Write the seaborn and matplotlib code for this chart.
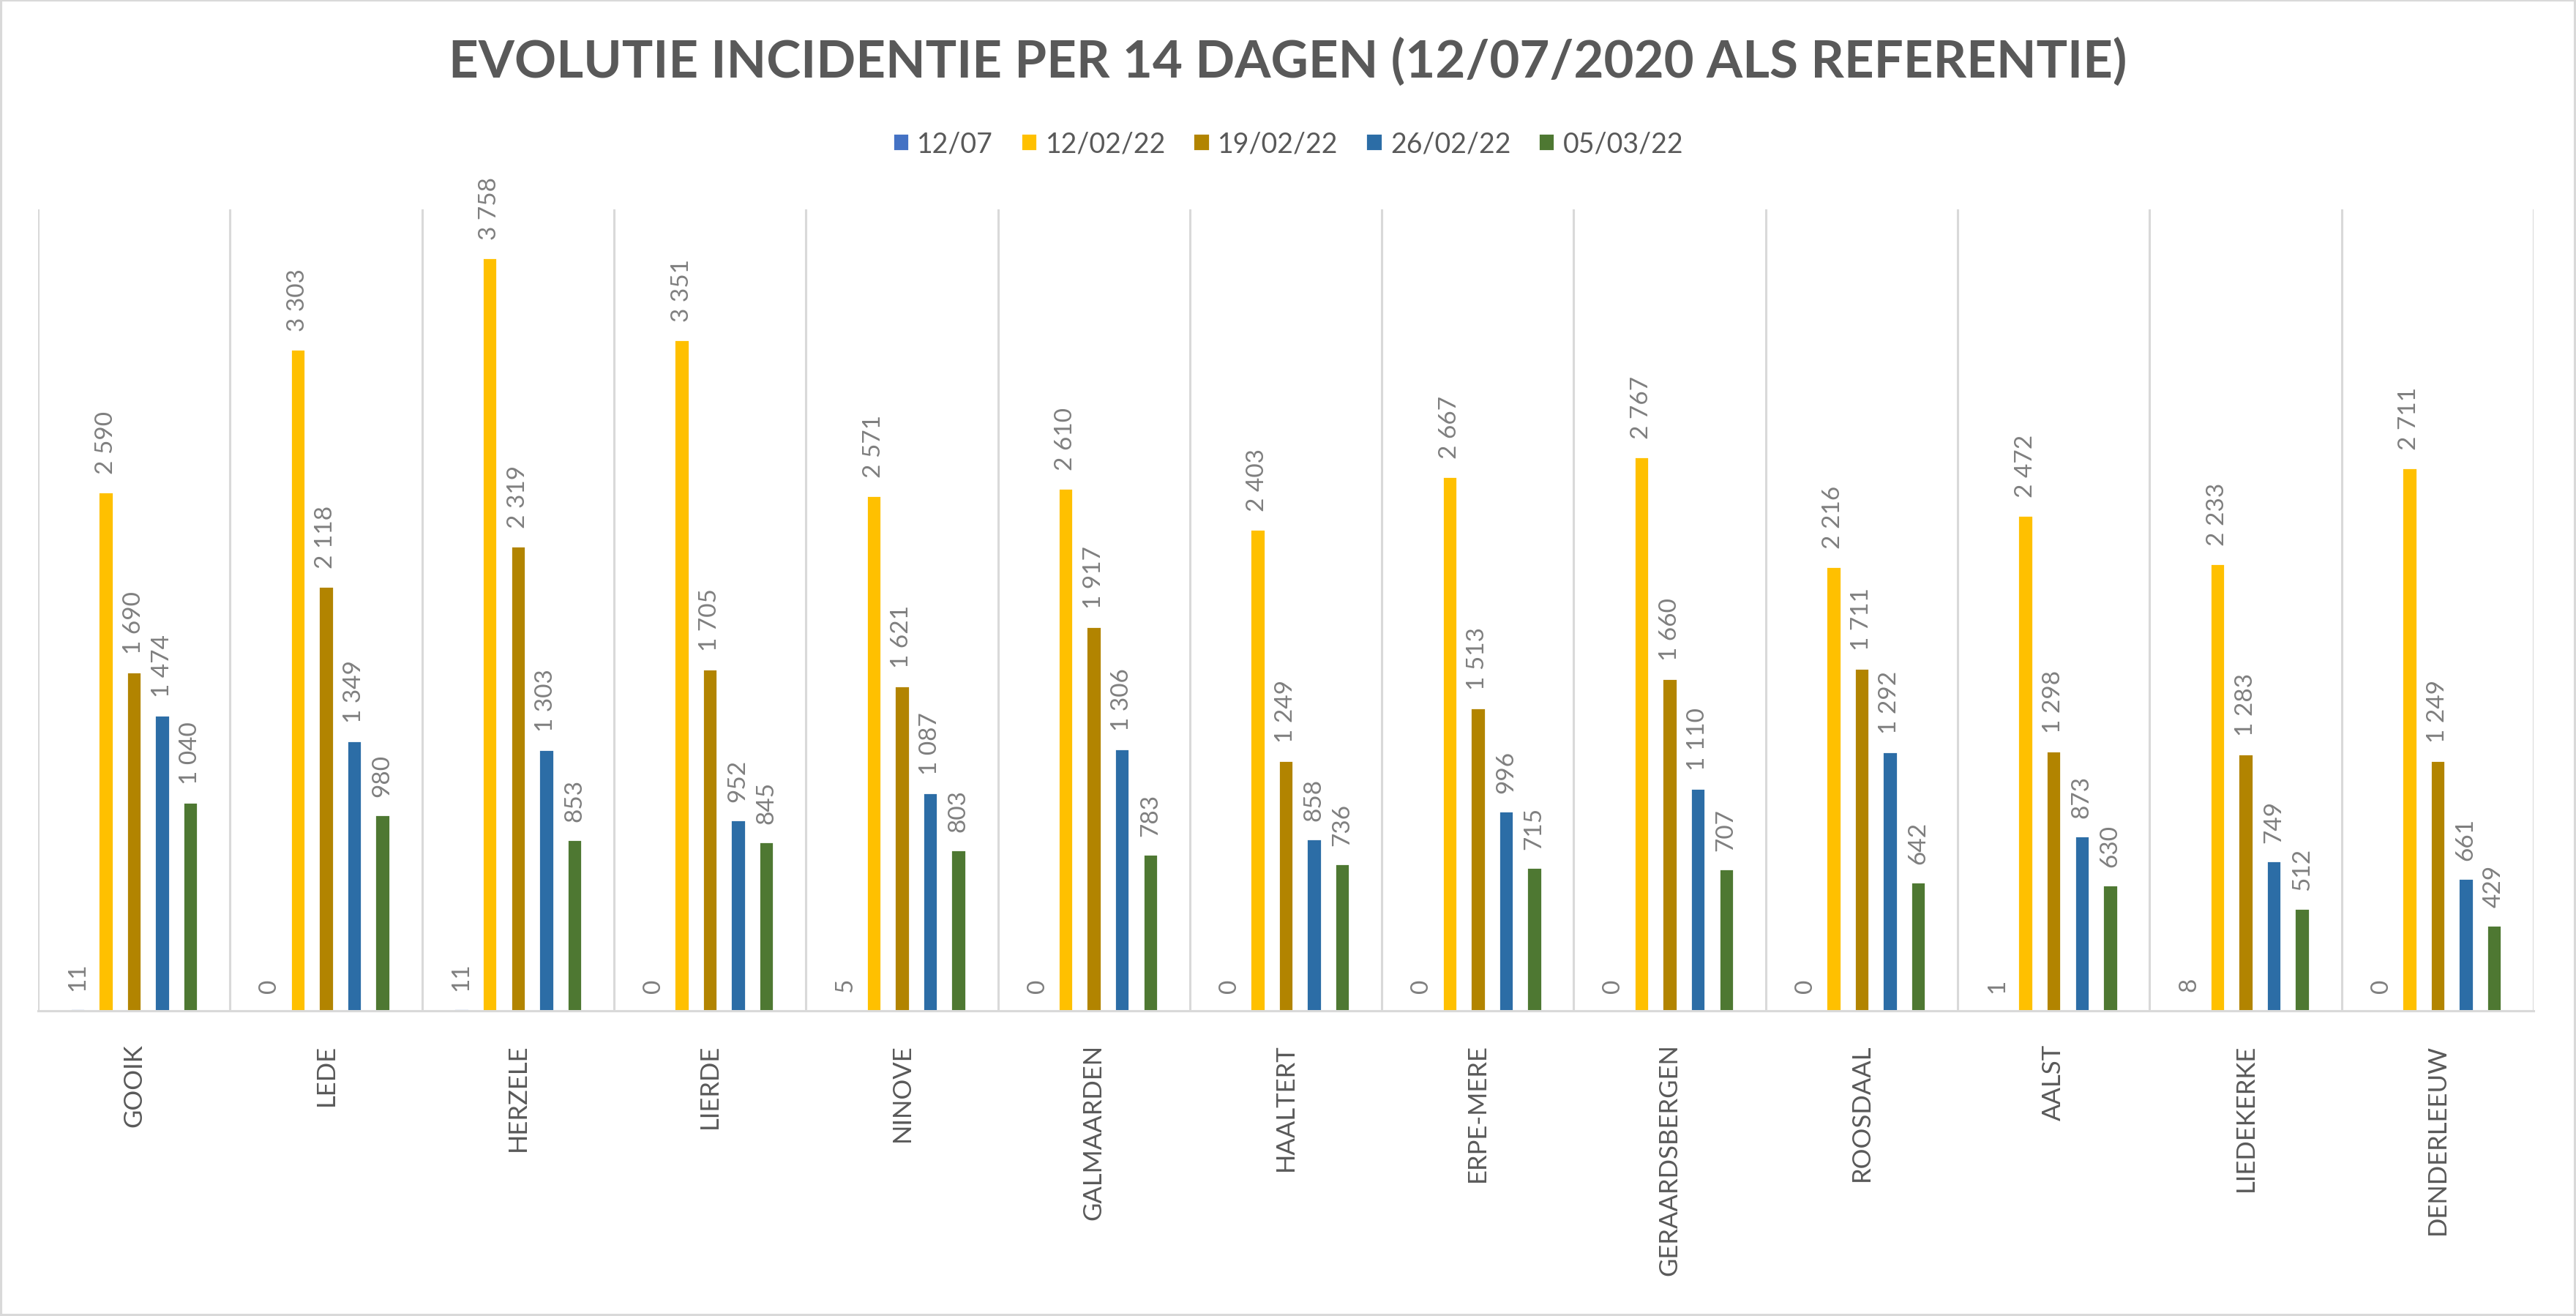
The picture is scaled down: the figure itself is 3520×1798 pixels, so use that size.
import matplotlib
matplotlib.use("Agg")
import matplotlib.pyplot as plt
from matplotlib.patches import Rectangle
import numpy as np
import pandas as pd
import seaborn as sns

# data
gemeenten = ["GOOIK", "LEDE", "HERZELE", "LIERDE", "NINOVE", "GALMAARDEN", "HAALTERT",
             "ERPE-MERE", "GERAARDSBERGEN", "ROOSDAAL", "AALST", "LIEDEKERKE", "DENDERLEEUW"]
datums = ["12/07", "12/02/22", "19/02/22", "26/02/22", "05/03/22"]

inc_1207 = [11, 0, 11, 0, 5, 0, 0, 0, 0, 0, 1, 8, 0]
inc_120222 = [2590, 3303, 3758, 3351, 2571, 2610, 2403, 2667, 2767, 2216, 2472, 2233, 2711]
inc_190222 = [1690, 2118, 2319, 1705, 1621, 1917, 1249, 1513, 1660, 1711, 1298, 1283, 1249]
inc_260222 = [1474, 1349, 1303, 952, 1087, 1306, 858, 996, 1110, 1292, 873, 749, 661]
inc_050322 = [1040, 980, 853, 845, 803, 783, 736, 715, 707, 642, 630, 512, 429]

kleuren = ["#4472C4", "#FFC000", "#B28400", "#2C6DA6", "#4E7832"]
titel = "EVOLUTIE INCIDENTIE PER 14 DAGEN (12/07/2020 ALS REFERENTIE)"

reeksen = [inc_1207, inc_120222, inc_190222, inc_260222, inc_050322]
rows = []
for datum, reeks in zip(datums, reeksen):
    for gemeente, waarde in zip(gemeenten, reeks):
        rows.append({"gemeente": gemeente, "datum": datum, "incidentie": waarde})
df = pd.DataFrame(rows)

sns.set_style("white")
plt.rcParams["font.family"] = ["Lato", "DejaVu Sans"]

W, H = 3520, 1799
fig = plt.figure(figsize=(W / 200, H / 200), dpi=200)
ax = fig.add_axes([52 / W, 1 - 1382 / H, (3462 - 52) / W, (1382 - 287) / H])

sns.barplot(data=df, x="gemeente", y="incidentie", hue="datum",
            order=gemeenten, hue_order=datums, palette=kleuren,
            width=0.735, gap=0.47, saturation=1, errorbar=None, ax=ax)

for container, reeks in zip(ax.containers, reeksen):
    labels = [f"{v:,}".replace(",", " ") for v in reeks]
    ax.bar_label(container, labels=labels, rotation=90, padding=9,
                 fontsize=12, color="#7f7f7f")

ax.set_ylim(0, 4000)
ax.set_xlim(-0.5, len(gemeenten) - 0.5)
ax.set_yticks([])
ax.set_xlabel("")
ax.set_ylabel("")
ax.set_xticks(np.arange(-0.5, len(gemeenten), 1), minor=True)
ax.grid(False)
ax.grid(which="minor", axis="x", color="#d9d9d9", lw=1.1)
ax.tick_params(which="both", length=0)
ax.tick_params(axis="x", which="major", pad=16, labelsize=12.5,
               labelcolor="#595959", labelrotation=90)
for side in ["left", "right", "top"]:
    ax.spines[side].set_visible(False)
ax.spines["bottom"].set_color("#d9d9d9")
ax.spines["bottom"].set_linewidth(1.1)

sns.move_legend(ax, "center", bbox_to_anchor=(0.5, 1 - 197 / H),
                bbox_transform=fig.transFigure, ncol=5, frameon=False,
                title=None, fontsize=13.5, handlelength=0.6, handleheight=0.6,
                handletextpad=0.3, columnspacing=1.0, labelcolor="#595959")

fig.text(0.5, 1 - 84 / H, titel, ha="center", va="center", fontsize=25.5,
         fontweight="bold", color="#595959")

fig.add_artist(Rectangle((0, 0), 1, 1, transform=fig.transFigure, fill=False,
                         edgecolor="#d9d9d9", lw=2.2))

fig.savefig("out.png", dpi=200, facecolor="white")
